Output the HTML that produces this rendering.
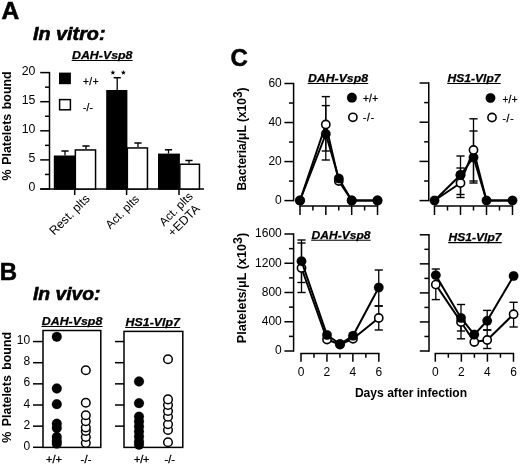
<!DOCTYPE html>
<html><head><meta charset="utf-8"><title>Figure</title>
<style>
html,body{margin:0;padding:0;background:#fff;}
body{width:520px;height:465px;overflow:hidden;font-family:"Liberation Sans",sans-serif;}
svg{display:block;filter:blur(0.4px);}
svg text{font-family:"Liberation Sans",sans-serif;fill:#000;}
</style></head><body>
<svg width="520" height="465" viewBox="0 0 520 465">
<rect x="0" y="0" width="520" height="465" fill="#fff"/>
<text x="1.4" y="19" font-size="24.5" font-weight="bold" font-style="normal" text-anchor="start" stroke="#000" stroke-width="0.6">A</text>
<text x="33" y="40" font-size="18.5" font-weight="bold" font-style="italic" textLength="72.5" lengthAdjust="spacingAndGlyphs" stroke="#000" stroke-width="0.6">In vitro:</text>
<text x="72" y="59" font-size="11.5" font-weight="bold" font-style="italic" textLength="60.5" lengthAdjust="spacingAndGlyphs" stroke="#000" stroke-width="0.25">DAH-Vsp8</text>
<line x1="71.70" y1="60.50" x2="132.70" y2="60.50" stroke="#000" stroke-width="1.1" />
<line x1="49.50" y1="71.90" x2="49.50" y2="189.70" stroke="#000" stroke-width="1.5" />
<line x1="40.20" y1="189.00" x2="49.50" y2="189.00" stroke="#000" stroke-width="1.5" />
<text x="35.4" y="191.2" font-size="12.3" font-weight="normal" font-style="normal" text-anchor="end" >0</text>
<line x1="40.20" y1="159.90" x2="49.50" y2="159.90" stroke="#000" stroke-width="1.5" />
<text x="35.4" y="162.1" font-size="12.3" font-weight="normal" font-style="normal" text-anchor="end" >5</text>
<line x1="40.20" y1="130.80" x2="49.50" y2="130.80" stroke="#000" stroke-width="1.5" />
<text x="35.4" y="133.0" font-size="12.3" font-weight="normal" font-style="normal" text-anchor="end" >10</text>
<line x1="40.20" y1="101.70" x2="49.50" y2="101.70" stroke="#000" stroke-width="1.5" />
<text x="35.4" y="103.89999999999999" font-size="12.3" font-weight="normal" font-style="normal" text-anchor="end" >15</text>
<line x1="40.20" y1="72.60" x2="49.50" y2="72.60" stroke="#000" stroke-width="1.5" />
<text x="35.4" y="74.8" font-size="12.3" font-weight="normal" font-style="normal" text-anchor="end" >20</text>
<line x1="45.00" y1="174.45" x2="49.50" y2="174.45" stroke="#000" stroke-width="1.5" />
<line x1="45.00" y1="145.35" x2="49.50" y2="145.35" stroke="#000" stroke-width="1.5" />
<line x1="45.00" y1="116.25" x2="49.50" y2="116.25" stroke="#000" stroke-width="1.5" />
<line x1="45.00" y1="87.15" x2="49.50" y2="87.15" stroke="#000" stroke-width="1.5" />
<line x1="40.20" y1="189.00" x2="204.00" y2="189.00" stroke="#000" stroke-width="1.5" />
<line x1="74.70" y1="189.00" x2="74.70" y2="195.00" stroke="#000" stroke-width="1.5" />
<line x1="126.60" y1="189.00" x2="126.60" y2="195.00" stroke="#000" stroke-width="1.5" />
<line x1="179.00" y1="189.00" x2="179.00" y2="195.00" stroke="#000" stroke-width="1.5" />
<rect x="54.55" y="156.25" width="20.10" height="32.75" fill="#000" stroke="#000" stroke-width="1.5"/>
<line x1="65.00" y1="155.50" x2="65.00" y2="151.00" stroke="#000" stroke-width="1.3" />
<line x1="61.40" y1="151.00" x2="68.60" y2="151.00" stroke="#000" stroke-width="1.5" />
<rect x="75.35" y="149.95" width="20.20" height="39.05" fill="#fff" stroke="#000" stroke-width="1.5"/>
<line x1="86.00" y1="149.00" x2="86.00" y2="146.00" stroke="#000" stroke-width="1.3" />
<line x1="82.40" y1="146.00" x2="89.60" y2="146.00" stroke="#000" stroke-width="1.5" />
<rect x="106.95" y="90.75" width="19.70" height="98.25" fill="#000" stroke="#000" stroke-width="1.5"/>
<line x1="117.20" y1="90.00" x2="117.20" y2="77.70" stroke="#000" stroke-width="1.3" />
<line x1="113.60" y1="77.70" x2="120.80" y2="77.70" stroke="#000" stroke-width="1.5" />
<rect x="127.35" y="147.95" width="20.10" height="41.05" fill="#fff" stroke="#000" stroke-width="1.5"/>
<line x1="138.00" y1="147.00" x2="138.00" y2="143.00" stroke="#000" stroke-width="1.3" />
<line x1="134.40" y1="143.00" x2="141.60" y2="143.00" stroke="#000" stroke-width="1.5" />
<rect x="158.75" y="154.35" width="20.40" height="34.65" fill="#000" stroke="#000" stroke-width="1.5"/>
<line x1="168.50" y1="153.50" x2="168.50" y2="149.80" stroke="#000" stroke-width="1.3" />
<line x1="164.90" y1="149.80" x2="172.10" y2="149.80" stroke="#000" stroke-width="1.5" />
<rect x="179.85" y="164.25" width="19.60" height="24.75" fill="#fff" stroke="#000" stroke-width="1.5"/>
<line x1="189.00" y1="163.50" x2="189.00" y2="160.50" stroke="#000" stroke-width="1.3" />
<line x1="185.40" y1="160.50" x2="192.60" y2="160.50" stroke="#000" stroke-width="1.5" />
<polygon points="112.90,70.00 113.54,71.72 115.37,71.80 113.94,72.94 114.43,74.70 112.90,73.69 111.37,74.70 111.86,72.94 110.43,71.80 112.26,71.72" fill="#000"/>
<polygon points="123.40,70.00 124.04,71.72 125.87,71.80 124.44,72.94 124.93,74.70 123.40,73.69 121.87,74.70 122.36,72.94 120.93,71.80 122.76,71.72" fill="#000"/>
<rect x="59" y="72.6" width="11.9" height="11.6" fill="#000"/>
<rect x="59.6" y="99.6" width="10.8" height="10.2" fill="#fff" stroke="#000" stroke-width="1.5"/>
<text x="83" y="84.7" font-size="10" textLength="15.5" lengthAdjust="spacing" stroke="#000" stroke-width="0.25">+/+</text>
<text x="83" y="110.5" font-size="10" textLength="9.8" lengthAdjust="spacing" stroke="#000" stroke-width="0.25">-/-</text>
<text transform="translate(10.7,125.9) rotate(-90)" font-size="12.4" font-weight="bold" text-anchor="middle" word-spacing="1.2">% Platelets bound</text>
<text transform="translate(90.5,199.5) rotate(-45)" font-size="12.3" text-anchor="end">Rest. plts</text>
<text transform="translate(140,199.8) rotate(-45)" font-size="11.8" text-anchor="end">Act. plts</text>
<text transform="translate(193.6,197) rotate(-45)" font-size="11.8" text-anchor="end">Act. plts</text>
<text transform="translate(200.5,209.5) rotate(-45)" font-size="12.3" text-anchor="end">+EDTA</text>
<text x="-0.3" y="279.5" font-size="24" font-weight="bold" font-style="normal" text-anchor="start" stroke="#000" stroke-width="0.5">B</text>
<text x="33" y="300" font-size="18.5" font-weight="bold" font-style="italic" textLength="67.5" lengthAdjust="spacingAndGlyphs" stroke="#000" stroke-width="0.6">In vivo:</text>
<text x="41.8" y="325" font-size="11.5" font-weight="bold" font-style="italic" textLength="60.5" lengthAdjust="spacingAndGlyphs" stroke="#000" stroke-width="0.25">DAH-Vsp8</text>
<line x1="41.50" y1="326.50" x2="102.50" y2="326.50" stroke="#000" stroke-width="1.1" />
<text x="125.5" y="326" font-size="11.5" font-weight="bold" font-style="italic" textLength="54.5" lengthAdjust="spacingAndGlyphs" stroke="#000" stroke-width="0.25">HS1-Vlp7</text>
<line x1="125.20" y1="327.50" x2="180.20" y2="327.50" stroke="#000" stroke-width="1.1" />
<rect x="43" y="330.5" width="57.8" height="116.9" fill="none" stroke="#000" stroke-width="1.5"/>
<rect x="124" y="331.4" width="58.8" height="116" fill="none" stroke="#000" stroke-width="1.5"/>
<line x1="33.00" y1="447.30" x2="43.00" y2="447.30" stroke="#000" stroke-width="1.5" />
<text x="30.1" y="449.8" font-size="12.0" font-weight="normal" font-style="normal" text-anchor="end" >0</text>
<line x1="33.00" y1="426.15" x2="43.00" y2="426.15" stroke="#000" stroke-width="1.5" />
<text x="30.1" y="428.65000000000003" font-size="12.0" font-weight="normal" font-style="normal" text-anchor="end" >2</text>
<line x1="33.00" y1="405.00" x2="43.00" y2="405.00" stroke="#000" stroke-width="1.5" />
<text x="30.1" y="407.5" font-size="12.0" font-weight="normal" font-style="normal" text-anchor="end" >4</text>
<line x1="33.00" y1="383.85" x2="43.00" y2="383.85" stroke="#000" stroke-width="1.5" />
<text x="30.1" y="386.35" font-size="12.0" font-weight="normal" font-style="normal" text-anchor="end" >6</text>
<line x1="33.00" y1="362.70" x2="43.00" y2="362.70" stroke="#000" stroke-width="1.5" />
<text x="30.1" y="365.20000000000005" font-size="12.0" font-weight="normal" font-style="normal" text-anchor="end" >8</text>
<line x1="33.00" y1="341.55" x2="43.00" y2="341.55" stroke="#000" stroke-width="1.5" />
<text x="30.1" y="344.05" font-size="12.0" font-weight="normal" font-style="normal" text-anchor="end" >10</text>
<line x1="115.00" y1="426.15" x2="124.00" y2="426.15" stroke="#000" stroke-width="1.5" />
<line x1="115.00" y1="405.00" x2="124.00" y2="405.00" stroke="#000" stroke-width="1.5" />
<line x1="115.00" y1="383.85" x2="124.00" y2="383.85" stroke="#000" stroke-width="1.5" />
<line x1="115.00" y1="362.70" x2="124.00" y2="362.70" stroke="#000" stroke-width="1.5" />
<line x1="115.00" y1="341.55" x2="124.00" y2="341.55" stroke="#000" stroke-width="1.5" />
<circle cx="56.80" cy="443.70" r="4.9" fill="#000" stroke="#000" stroke-width="0.2"/>
<circle cx="56.80" cy="441.00" r="4.9" fill="#000" stroke="#000" stroke-width="0.2"/>
<circle cx="56.80" cy="437.00" r="4.9" fill="#000" stroke="#000" stroke-width="0.2"/>
<circle cx="56.80" cy="428.00" r="4.9" fill="#000" stroke="#000" stroke-width="0.2"/>
<circle cx="56.80" cy="423.70" r="4.9" fill="#000" stroke="#000" stroke-width="0.2"/>
<circle cx="56.80" cy="404.20" r="4.9" fill="#000" stroke="#000" stroke-width="0.2"/>
<circle cx="56.80" cy="388.50" r="4.9" fill="#000" stroke="#000" stroke-width="0.2"/>
<circle cx="56.80" cy="336.80" r="4.9" fill="#000" stroke="#000" stroke-width="0.2"/>
<circle cx="85.80" cy="443.00" r="4.3" fill="#fff" stroke="#000" stroke-width="1.5"/>
<circle cx="85.80" cy="437.00" r="4.3" fill="#fff" stroke="#000" stroke-width="1.5"/>
<circle cx="85.80" cy="431.00" r="4.3" fill="#fff" stroke="#000" stroke-width="1.5"/>
<circle cx="85.80" cy="427.50" r="4.3" fill="#fff" stroke="#000" stroke-width="1.5"/>
<circle cx="85.80" cy="421.30" r="4.3" fill="#fff" stroke="#000" stroke-width="1.5"/>
<circle cx="85.80" cy="415.20" r="4.3" fill="#fff" stroke="#000" stroke-width="1.5"/>
<circle cx="85.80" cy="402.80" r="4.3" fill="#fff" stroke="#000" stroke-width="1.5"/>
<circle cx="85.80" cy="370.20" r="4.3" fill="#fff" stroke="#000" stroke-width="1.5"/>
<circle cx="139.00" cy="444.80" r="4.9" fill="#000" stroke="#000" stroke-width="0.2"/>
<circle cx="139.00" cy="441.50" r="4.9" fill="#000" stroke="#000" stroke-width="0.2"/>
<circle cx="139.00" cy="436.50" r="4.9" fill="#000" stroke="#000" stroke-width="0.2"/>
<circle cx="139.00" cy="431.50" r="4.9" fill="#000" stroke="#000" stroke-width="0.2"/>
<circle cx="139.00" cy="426.50" r="4.9" fill="#000" stroke="#000" stroke-width="0.2"/>
<circle cx="139.00" cy="421.50" r="4.9" fill="#000" stroke="#000" stroke-width="0.2"/>
<circle cx="139.00" cy="416.60" r="4.9" fill="#000" stroke="#000" stroke-width="0.2"/>
<circle cx="139.00" cy="403.20" r="4.9" fill="#000" stroke="#000" stroke-width="0.2"/>
<circle cx="139.00" cy="381.50" r="4.9" fill="#000" stroke="#000" stroke-width="0.2"/>
<circle cx="168.00" cy="442.20" r="4.3" fill="#fff" stroke="#000" stroke-width="1.5"/>
<circle cx="168.00" cy="430.00" r="4.3" fill="#fff" stroke="#000" stroke-width="1.5"/>
<circle cx="168.00" cy="424.30" r="4.3" fill="#fff" stroke="#000" stroke-width="1.5"/>
<circle cx="168.00" cy="416.80" r="4.3" fill="#fff" stroke="#000" stroke-width="1.5"/>
<circle cx="168.00" cy="411.00" r="4.3" fill="#fff" stroke="#000" stroke-width="1.5"/>
<circle cx="168.00" cy="405.00" r="4.3" fill="#fff" stroke="#000" stroke-width="1.5"/>
<circle cx="168.00" cy="399.40" r="4.3" fill="#fff" stroke="#000" stroke-width="1.5"/>
<circle cx="168.00" cy="359.20" r="4.3" fill="#fff" stroke="#000" stroke-width="1.5"/>
<text x="46" y="463" font-size="11" textLength="16" lengthAdjust="spacing" stroke="#000" stroke-width="0.3">+/+</text>
<text x="80.5" y="463" font-size="11" textLength="11" lengthAdjust="spacing" stroke="#000" stroke-width="0.3">-/-</text>
<text x="134" y="463" font-size="11" textLength="15.5" lengthAdjust="spacing" stroke="#000" stroke-width="0.3">+/+</text>
<text x="164.5" y="463" font-size="11" textLength="10.5" lengthAdjust="spacing" stroke="#000" stroke-width="0.3">-/-</text>
<text transform="translate(10.7,387.3) rotate(-90)" font-size="12.4" font-weight="bold" text-anchor="middle" word-spacing="2">% Platelets bound</text>
<text x="230.4" y="66" font-size="24" font-weight="bold" font-style="normal" text-anchor="start" stroke="#000" stroke-width="0.5">C</text>
<text x="308" y="82" font-size="11.5" font-weight="bold" font-style="italic" textLength="60" lengthAdjust="spacingAndGlyphs" stroke="#000" stroke-width="0.25">DAH-Vsp8</text>
<line x1="307.70" y1="83.50" x2="368.20" y2="83.50" stroke="#000" stroke-width="1.1" />
<text x="447.5" y="82" font-size="11.5" font-weight="bold" font-style="italic" textLength="53" lengthAdjust="spacingAndGlyphs" stroke="#000" stroke-width="0.25">HS1-Vlp7</text>
<line x1="447.20" y1="83.50" x2="500.70" y2="83.50" stroke="#000" stroke-width="1.1" />
<text x="311.5" y="238.75" font-size="11.5" font-weight="bold" font-style="italic" textLength="59" lengthAdjust="spacingAndGlyphs" stroke="#000" stroke-width="0.25">DAH-Vsp8</text>
<line x1="311.20" y1="240.25" x2="370.70" y2="240.25" stroke="#000" stroke-width="1.1" />
<text x="448.5" y="241.1" font-size="11.5" font-weight="bold" font-style="italic" textLength="53" lengthAdjust="spacingAndGlyphs" stroke="#000" stroke-width="0.25">HS1-Vlp7</text>
<line x1="448.20" y1="242.60" x2="501.70" y2="242.60" stroke="#000" stroke-width="1.1" />
<line x1="293.60" y1="82.80" x2="293.60" y2="201.30" stroke="#000" stroke-width="1.5" />
<line x1="284.40" y1="83.50" x2="293.60" y2="83.50" stroke="#000" stroke-width="1.5" />
<text x="281.8" y="86.8" font-size="12.0" font-weight="normal" font-style="normal" text-anchor="end" >60</text>
<line x1="284.40" y1="122.53" x2="293.60" y2="122.53" stroke="#000" stroke-width="1.5" />
<text x="281.8" y="125.83333333333333" font-size="12.0" font-weight="normal" font-style="normal" text-anchor="end" >40</text>
<line x1="284.40" y1="161.57" x2="293.60" y2="161.57" stroke="#000" stroke-width="1.5" />
<text x="281.8" y="164.86666666666667" font-size="12.0" font-weight="normal" font-style="normal" text-anchor="end" >20</text>
<line x1="284.40" y1="200.60" x2="293.60" y2="200.60" stroke="#000" stroke-width="1.5" />
<text x="281.8" y="203.9" font-size="12.0" font-weight="normal" font-style="normal" text-anchor="end" >0</text>
<line x1="289.00" y1="103.02" x2="293.60" y2="103.02" stroke="#000" stroke-width="1.5" />
<line x1="289.00" y1="142.05" x2="293.60" y2="142.05" stroke="#000" stroke-width="1.5" />
<line x1="289.00" y1="181.08" x2="293.60" y2="181.08" stroke="#000" stroke-width="1.5" />
<line x1="299.30" y1="206.00" x2="378.22" y2="206.00" stroke="#000" stroke-width="1.5" />
<line x1="300.00" y1="206.00" x2="300.00" y2="215.00" stroke="#000" stroke-width="1.5" />
<line x1="312.92" y1="206.00" x2="312.92" y2="210.50" stroke="#000" stroke-width="1.5" />
<line x1="325.84" y1="206.00" x2="325.84" y2="215.00" stroke="#000" stroke-width="1.5" />
<line x1="338.76" y1="206.00" x2="338.76" y2="210.50" stroke="#000" stroke-width="1.5" />
<line x1="351.68" y1="206.00" x2="351.68" y2="215.00" stroke="#000" stroke-width="1.5" />
<line x1="364.60" y1="206.00" x2="364.60" y2="210.50" stroke="#000" stroke-width="1.5" />
<line x1="377.52" y1="206.00" x2="377.52" y2="215.00" stroke="#000" stroke-width="1.5" />
<line x1="428.75" y1="82.30" x2="428.75" y2="201.30" stroke="#000" stroke-width="1.5" />
<line x1="419.55" y1="83.00" x2="428.75" y2="83.00" stroke="#000" stroke-width="1.5" />
<line x1="419.55" y1="122.20" x2="428.75" y2="122.20" stroke="#000" stroke-width="1.5" />
<line x1="419.55" y1="161.40" x2="428.75" y2="161.40" stroke="#000" stroke-width="1.5" />
<line x1="419.55" y1="200.60" x2="428.75" y2="200.60" stroke="#000" stroke-width="1.5" />
<line x1="424.15" y1="102.60" x2="428.75" y2="102.60" stroke="#000" stroke-width="1.5" />
<line x1="424.15" y1="141.80" x2="428.75" y2="141.80" stroke="#000" stroke-width="1.5" />
<line x1="424.15" y1="181.00" x2="428.75" y2="181.00" stroke="#000" stroke-width="1.5" />
<line x1="433.80" y1="206.00" x2="513.20" y2="206.00" stroke="#000" stroke-width="1.5" />
<line x1="434.50" y1="206.00" x2="434.50" y2="215.00" stroke="#000" stroke-width="1.5" />
<line x1="447.50" y1="206.00" x2="447.50" y2="210.50" stroke="#000" stroke-width="1.5" />
<line x1="460.50" y1="206.00" x2="460.50" y2="215.00" stroke="#000" stroke-width="1.5" />
<line x1="473.50" y1="206.00" x2="473.50" y2="210.50" stroke="#000" stroke-width="1.5" />
<line x1="486.50" y1="206.00" x2="486.50" y2="215.00" stroke="#000" stroke-width="1.5" />
<line x1="499.50" y1="206.00" x2="499.50" y2="210.50" stroke="#000" stroke-width="1.5" />
<line x1="512.50" y1="206.00" x2="512.50" y2="215.00" stroke="#000" stroke-width="1.5" />
<line x1="293.60" y1="233.30" x2="293.60" y2="351.70" stroke="#000" stroke-width="1.5" />
<line x1="284.40" y1="234.00" x2="293.60" y2="234.00" stroke="#000" stroke-width="1.5" />
<text x="281.8" y="237.3" font-size="12.0" font-weight="normal" font-style="normal" text-anchor="end" >1600</text>
<line x1="284.40" y1="263.25" x2="293.60" y2="263.25" stroke="#000" stroke-width="1.5" />
<text x="281.8" y="266.55" font-size="12.0" font-weight="normal" font-style="normal" text-anchor="end" >1200</text>
<line x1="284.40" y1="292.50" x2="293.60" y2="292.50" stroke="#000" stroke-width="1.5" />
<text x="281.8" y="295.8" font-size="12.0" font-weight="normal" font-style="normal" text-anchor="end" >800</text>
<line x1="284.40" y1="321.75" x2="293.60" y2="321.75" stroke="#000" stroke-width="1.5" />
<text x="281.8" y="325.05" font-size="12.0" font-weight="normal" font-style="normal" text-anchor="end" >400</text>
<line x1="284.40" y1="351.00" x2="293.60" y2="351.00" stroke="#000" stroke-width="1.5" />
<text x="281.8" y="354.3" font-size="12.0" font-weight="normal" font-style="normal" text-anchor="end" >0</text>
<line x1="289.00" y1="248.62" x2="293.60" y2="248.62" stroke="#000" stroke-width="1.5" />
<line x1="289.00" y1="277.88" x2="293.60" y2="277.88" stroke="#000" stroke-width="1.5" />
<line x1="289.00" y1="307.12" x2="293.60" y2="307.12" stroke="#000" stroke-width="1.5" />
<line x1="289.00" y1="336.38" x2="293.60" y2="336.38" stroke="#000" stroke-width="1.5" />
<line x1="300.30" y1="353.50" x2="379.52" y2="353.50" stroke="#000" stroke-width="1.5" />
<line x1="301.00" y1="353.50" x2="301.00" y2="361.70" stroke="#000" stroke-width="1.5" />
<text x="301.0" y="376.3" font-size="12.0" font-weight="normal" font-style="normal" text-anchor="middle" >0</text>
<line x1="313.97" y1="353.50" x2="313.97" y2="357.70" stroke="#000" stroke-width="1.5" />
<line x1="326.94" y1="353.50" x2="326.94" y2="361.70" stroke="#000" stroke-width="1.5" />
<text x="326.94" y="376.3" font-size="12.0" font-weight="normal" font-style="normal" text-anchor="middle" >2</text>
<line x1="339.91" y1="353.50" x2="339.91" y2="357.70" stroke="#000" stroke-width="1.5" />
<line x1="352.88" y1="353.50" x2="352.88" y2="361.70" stroke="#000" stroke-width="1.5" />
<text x="352.88" y="376.3" font-size="12.0" font-weight="normal" font-style="normal" text-anchor="middle" >4</text>
<line x1="365.85" y1="353.50" x2="365.85" y2="357.70" stroke="#000" stroke-width="1.5" />
<line x1="378.82" y1="353.50" x2="378.82" y2="361.70" stroke="#000" stroke-width="1.5" />
<text x="378.82" y="376.3" font-size="12.0" font-weight="normal" font-style="normal" text-anchor="middle" >6</text>
<line x1="429.00" y1="234.10" x2="429.00" y2="351.70" stroke="#000" stroke-width="1.5" />
<line x1="419.80" y1="234.80" x2="429.00" y2="234.80" stroke="#000" stroke-width="1.5" />
<line x1="419.80" y1="263.85" x2="429.00" y2="263.85" stroke="#000" stroke-width="1.5" />
<line x1="419.80" y1="292.90" x2="429.00" y2="292.90" stroke="#000" stroke-width="1.5" />
<line x1="419.80" y1="321.95" x2="429.00" y2="321.95" stroke="#000" stroke-width="1.5" />
<line x1="419.80" y1="351.00" x2="429.00" y2="351.00" stroke="#000" stroke-width="1.5" />
<line x1="424.40" y1="249.33" x2="429.00" y2="249.33" stroke="#000" stroke-width="1.5" />
<line x1="424.40" y1="278.38" x2="429.00" y2="278.38" stroke="#000" stroke-width="1.5" />
<line x1="424.40" y1="307.43" x2="429.00" y2="307.43" stroke="#000" stroke-width="1.5" />
<line x1="424.40" y1="336.48" x2="429.00" y2="336.48" stroke="#000" stroke-width="1.5" />
<line x1="434.60" y1="353.50" x2="514.18" y2="353.50" stroke="#000" stroke-width="1.5" />
<line x1="435.30" y1="353.50" x2="435.30" y2="361.70" stroke="#000" stroke-width="1.5" />
<text x="435.3" y="376.3" font-size="12.0" font-weight="normal" font-style="normal" text-anchor="middle" >0</text>
<line x1="448.33" y1="353.50" x2="448.33" y2="357.70" stroke="#000" stroke-width="1.5" />
<line x1="461.36" y1="353.50" x2="461.36" y2="361.70" stroke="#000" stroke-width="1.5" />
<text x="461.36" y="376.3" font-size="12.0" font-weight="normal" font-style="normal" text-anchor="middle" >2</text>
<line x1="474.39" y1="353.50" x2="474.39" y2="357.70" stroke="#000" stroke-width="1.5" />
<line x1="487.42" y1="353.50" x2="487.42" y2="361.70" stroke="#000" stroke-width="1.5" />
<text x="487.42" y="376.3" font-size="12.0" font-weight="normal" font-style="normal" text-anchor="middle" >4</text>
<line x1="500.45" y1="353.50" x2="500.45" y2="357.70" stroke="#000" stroke-width="1.5" />
<line x1="513.48" y1="353.50" x2="513.48" y2="361.70" stroke="#000" stroke-width="1.5" />
<text x="513.48" y="376.3" font-size="12.0" font-weight="normal" font-style="normal" text-anchor="middle" >6</text>
<line x1="325.80" y1="96.60" x2="325.80" y2="160.00" stroke="#000" stroke-width="1.3" />
<line x1="321.70" y1="96.60" x2="329.90" y2="96.60" stroke="#000" stroke-width="1.4" />
<line x1="321.70" y1="160.00" x2="329.90" y2="160.00" stroke="#000" stroke-width="1.4" />
<line x1="325.80" y1="105.60" x2="325.80" y2="151.00" stroke="#000" stroke-width="1.3" />
<line x1="321.70" y1="105.60" x2="329.90" y2="105.60" stroke="#000" stroke-width="1.4" />
<line x1="321.70" y1="151.00" x2="329.90" y2="151.00" stroke="#000" stroke-width="1.4" />
<polyline points="300,200.5 325.8,124.5 338.8,181 351.7,200.5 377.5,200.5" fill="none" stroke="#000" stroke-width="2.0" stroke-linejoin="round"/>
<circle cx="300.00" cy="200.50" r="4.1" fill="#fff" stroke="#000" stroke-width="1.6"/>
<circle cx="325.80" cy="124.50" r="4.1" fill="#fff" stroke="#000" stroke-width="1.6"/>
<circle cx="338.80" cy="181.00" r="4.1" fill="#fff" stroke="#000" stroke-width="1.6"/>
<circle cx="351.70" cy="200.50" r="4.1" fill="#fff" stroke="#000" stroke-width="1.6"/>
<circle cx="377.50" cy="200.50" r="4.1" fill="#fff" stroke="#000" stroke-width="1.6"/>
<polyline points="300,200.5 325.8,134 338.8,178.5 351.7,200.5 377.5,200.5" fill="none" stroke="#000" stroke-width="2.0" stroke-linejoin="round"/>
<circle cx="300.00" cy="200.50" r="4.8" fill="#000" stroke="#000" stroke-width="0.2"/>
<circle cx="325.80" cy="134.00" r="4.8" fill="#000" stroke="#000" stroke-width="0.2"/>
<circle cx="338.80" cy="178.50" r="4.8" fill="#000" stroke="#000" stroke-width="0.2"/>
<circle cx="351.70" cy="200.50" r="4.8" fill="#000" stroke="#000" stroke-width="0.2"/>
<circle cx="377.50" cy="200.50" r="4.8" fill="#000" stroke="#000" stroke-width="0.2"/>
<circle cx="351.90" cy="97.70" r="4.8999999999999995" fill="#000" stroke="#000" stroke-width="0.2"/>
<circle cx="352.90" cy="117.30" r="4.1" fill="#fff" stroke="#000" stroke-width="1.6"/>
<text x="363" y="101.7" font-size="10" textLength="15" lengthAdjust="spacing" stroke="#000" stroke-width="0.3">+/+</text>
<text x="363" y="120.8" font-size="10" textLength="11" lengthAdjust="spacing" stroke="#000" stroke-width="0.3">-/-</text>
<line x1="460.50" y1="156.00" x2="460.50" y2="194.50" stroke="#000" stroke-width="1.3" />
<line x1="456.40" y1="156.00" x2="464.60" y2="156.00" stroke="#000" stroke-width="1.4" />
<line x1="456.40" y1="194.50" x2="464.60" y2="194.50" stroke="#000" stroke-width="1.4" />
<line x1="460.50" y1="168.00" x2="460.50" y2="197.50" stroke="#000" stroke-width="1.3" />
<line x1="456.40" y1="168.00" x2="464.60" y2="168.00" stroke="#000" stroke-width="1.4" />
<line x1="456.40" y1="197.50" x2="464.60" y2="197.50" stroke="#000" stroke-width="1.4" />
<line x1="473.50" y1="118.80" x2="473.50" y2="183.00" stroke="#000" stroke-width="1.3" />
<line x1="469.40" y1="118.80" x2="477.60" y2="118.80" stroke="#000" stroke-width="1.4" />
<line x1="469.40" y1="183.00" x2="477.60" y2="183.00" stroke="#000" stroke-width="1.4" />
<line x1="473.50" y1="131.00" x2="473.50" y2="181.00" stroke="#000" stroke-width="1.3" />
<line x1="469.40" y1="131.00" x2="477.60" y2="131.00" stroke="#000" stroke-width="1.4" />
<line x1="469.40" y1="181.00" x2="477.60" y2="181.00" stroke="#000" stroke-width="1.4" />
<polyline points="434.5,200.5 460.5,183 473.5,150 486.5,200.5 512.5,200.5" fill="none" stroke="#000" stroke-width="2.0" stroke-linejoin="round"/>
<polyline points="434.5,200.5 460.5,175 473.5,157.5 486.5,200.5 512.5,200.5" fill="none" stroke="#000" stroke-width="2.0" stroke-linejoin="round"/>
<circle cx="434.50" cy="200.50" r="4.8" fill="#000" stroke="#000" stroke-width="0.2"/>
<circle cx="460.50" cy="175.00" r="4.8" fill="#000" stroke="#000" stroke-width="0.2"/>
<circle cx="473.50" cy="157.50" r="4.8" fill="#000" stroke="#000" stroke-width="0.2"/>
<circle cx="486.50" cy="200.50" r="4.8" fill="#000" stroke="#000" stroke-width="0.2"/>
<circle cx="512.50" cy="200.50" r="4.8" fill="#000" stroke="#000" stroke-width="0.2"/>
<circle cx="460.50" cy="183.00" r="4.1" fill="#fff" stroke="#000" stroke-width="1.6"/>
<circle cx="473.50" cy="150.00" r="4.1" fill="#fff" stroke="#000" stroke-width="1.6"/>
<circle cx="460.50" cy="175.00" r="4.8" fill="#000" stroke="#000" stroke-width="0.2"/>
<circle cx="490.50" cy="98.00" r="4.8" fill="#000" stroke="#000" stroke-width="0.2"/>
<circle cx="492.00" cy="117.50" r="4.1" fill="#fff" stroke="#000" stroke-width="1.6"/>
<text x="502.5" y="103" font-size="10" textLength="15" lengthAdjust="spacing" stroke="#000" stroke-width="0.3">+/+</text>
<text x="502.5" y="122" font-size="10" textLength="11" lengthAdjust="spacing" stroke="#000" stroke-width="0.3">-/-</text>
<line x1="301.50" y1="240.00" x2="301.50" y2="282.50" stroke="#000" stroke-width="1.3" />
<line x1="297.40" y1="240.00" x2="305.60" y2="240.00" stroke="#000" stroke-width="1.4" />
<line x1="297.40" y1="282.50" x2="305.60" y2="282.50" stroke="#000" stroke-width="1.4" />
<line x1="301.50" y1="243.00" x2="301.50" y2="292.50" stroke="#000" stroke-width="1.3" />
<line x1="297.40" y1="243.00" x2="305.60" y2="243.00" stroke="#000" stroke-width="1.4" />
<line x1="297.40" y1="292.50" x2="305.60" y2="292.50" stroke="#000" stroke-width="1.4" />
<line x1="378.75" y1="270.00" x2="378.75" y2="306.00" stroke="#000" stroke-width="1.3" />
<line x1="374.65" y1="270.00" x2="382.85" y2="270.00" stroke="#000" stroke-width="1.4" />
<line x1="374.65" y1="306.00" x2="382.85" y2="306.00" stroke="#000" stroke-width="1.4" />
<line x1="378.75" y1="306.00" x2="378.75" y2="330.00" stroke="#000" stroke-width="1.3" />
<line x1="374.65" y1="306.00" x2="382.85" y2="306.00" stroke="#000" stroke-width="1.4" />
<line x1="374.65" y1="330.00" x2="382.85" y2="330.00" stroke="#000" stroke-width="1.4" />
<polyline points="301.5,268 327,339.5 340,344.5 353,338.75 378.75,318" fill="none" stroke="#000" stroke-width="2.0" stroke-linejoin="round"/>
<circle cx="301.50" cy="268.00" r="4.1" fill="#fff" stroke="#000" stroke-width="1.6"/>
<circle cx="327.00" cy="339.50" r="4.1" fill="#fff" stroke="#000" stroke-width="1.6"/>
<circle cx="340.00" cy="344.50" r="4.1" fill="#fff" stroke="#000" stroke-width="1.6"/>
<circle cx="353.00" cy="338.75" r="4.1" fill="#fff" stroke="#000" stroke-width="1.6"/>
<circle cx="378.75" cy="318.00" r="4.1" fill="#fff" stroke="#000" stroke-width="1.6"/>
<polyline points="301.5,261.2 327,335 340,344 353,335.75 378.75,287.5" fill="none" stroke="#000" stroke-width="2.0" stroke-linejoin="round"/>
<circle cx="301.50" cy="261.20" r="4.8" fill="#000" stroke="#000" stroke-width="0.2"/>
<circle cx="327.00" cy="335.00" r="4.8" fill="#000" stroke="#000" stroke-width="0.2"/>
<circle cx="340.00" cy="344.00" r="4.8" fill="#000" stroke="#000" stroke-width="0.2"/>
<circle cx="353.00" cy="335.75" r="4.8" fill="#000" stroke="#000" stroke-width="0.2"/>
<circle cx="378.75" cy="287.50" r="4.8" fill="#000" stroke="#000" stroke-width="0.2"/>
<line x1="435.80" y1="269.00" x2="435.80" y2="275.00" stroke="#000" stroke-width="1.3" />
<line x1="431.70" y1="269.00" x2="439.90" y2="269.00" stroke="#000" stroke-width="1.4" />
<line x1="431.70" y1="275.00" x2="439.90" y2="275.00" stroke="#000" stroke-width="1.4" />
<line x1="435.80" y1="285.00" x2="435.80" y2="299.60" stroke="#000" stroke-width="1.3" />
<line x1="431.70" y1="285.00" x2="439.90" y2="285.00" stroke="#000" stroke-width="1.4" />
<line x1="431.70" y1="299.60" x2="439.90" y2="299.60" stroke="#000" stroke-width="1.4" />
<line x1="461.00" y1="304.50" x2="461.00" y2="331.00" stroke="#000" stroke-width="1.3" />
<line x1="456.90" y1="304.50" x2="465.10" y2="304.50" stroke="#000" stroke-width="1.4" />
<line x1="456.90" y1="331.00" x2="465.10" y2="331.00" stroke="#000" stroke-width="1.4" />
<line x1="461.00" y1="322.00" x2="461.00" y2="338.80" stroke="#000" stroke-width="1.3" />
<line x1="456.90" y1="322.00" x2="465.10" y2="322.00" stroke="#000" stroke-width="1.4" />
<line x1="456.90" y1="338.80" x2="465.10" y2="338.80" stroke="#000" stroke-width="1.4" />
<line x1="487.20" y1="310.40" x2="487.20" y2="330.00" stroke="#000" stroke-width="1.3" />
<line x1="483.10" y1="310.40" x2="491.30" y2="310.40" stroke="#000" stroke-width="1.4" />
<line x1="483.10" y1="330.00" x2="491.30" y2="330.00" stroke="#000" stroke-width="1.4" />
<line x1="487.20" y1="330.00" x2="487.20" y2="348.50" stroke="#000" stroke-width="1.3" />
<line x1="483.10" y1="330.00" x2="491.30" y2="330.00" stroke="#000" stroke-width="1.4" />
<line x1="483.10" y1="348.50" x2="491.30" y2="348.50" stroke="#000" stroke-width="1.4" />
<line x1="513.60" y1="302.30" x2="513.60" y2="327.00" stroke="#000" stroke-width="1.3" />
<line x1="509.50" y1="302.30" x2="517.70" y2="302.30" stroke="#000" stroke-width="1.4" />
<line x1="509.50" y1="327.00" x2="517.70" y2="327.00" stroke="#000" stroke-width="1.4" />
<polyline points="435.8,284.6 461,322 474.3,342 487.2,340 513.6,314.2" fill="none" stroke="#000" stroke-width="2.0" stroke-linejoin="round"/>
<circle cx="435.80" cy="284.60" r="4.1" fill="#fff" stroke="#000" stroke-width="1.6"/>
<circle cx="461.00" cy="322.00" r="4.1" fill="#fff" stroke="#000" stroke-width="1.6"/>
<circle cx="474.30" cy="342.00" r="4.1" fill="#fff" stroke="#000" stroke-width="1.6"/>
<circle cx="487.20" cy="340.00" r="4.1" fill="#fff" stroke="#000" stroke-width="1.6"/>
<circle cx="513.60" cy="314.20" r="4.1" fill="#fff" stroke="#000" stroke-width="1.6"/>
<polyline points="435.8,275.2 461,318 474.3,334.6 487.2,320.8 513.6,276" fill="none" stroke="#000" stroke-width="2.0" stroke-linejoin="round"/>
<circle cx="435.80" cy="275.20" r="4.8" fill="#000" stroke="#000" stroke-width="0.2"/>
<circle cx="461.00" cy="318.00" r="4.8" fill="#000" stroke="#000" stroke-width="0.2"/>
<circle cx="474.30" cy="334.60" r="4.8" fill="#000" stroke="#000" stroke-width="0.2"/>
<circle cx="487.20" cy="320.80" r="4.8" fill="#000" stroke="#000" stroke-width="0.2"/>
<circle cx="513.60" cy="276.00" r="4.8" fill="#000" stroke="#000" stroke-width="0.2"/>
<text transform="translate(246.4,139) rotate(-90)" font-size="12" font-weight="bold" text-anchor="middle">Bacteria/&#956;L (x10<tspan dy="-4.5" font-size="12">3</tspan><tspan dy="4.5">)</tspan></text>
<text transform="translate(246.4,288) rotate(-90)" font-size="12.6" font-weight="bold" text-anchor="middle">Platelets/&#956;L (x10<tspan dy="-4.5" font-size="12.6">3</tspan><tspan dy="4.5">)</tspan></text>
<text x="411" y="396.8" font-size="12.1" font-weight="bold" font-style="normal" text-anchor="middle" >Days after infection</text>
</svg>
</body></html>
